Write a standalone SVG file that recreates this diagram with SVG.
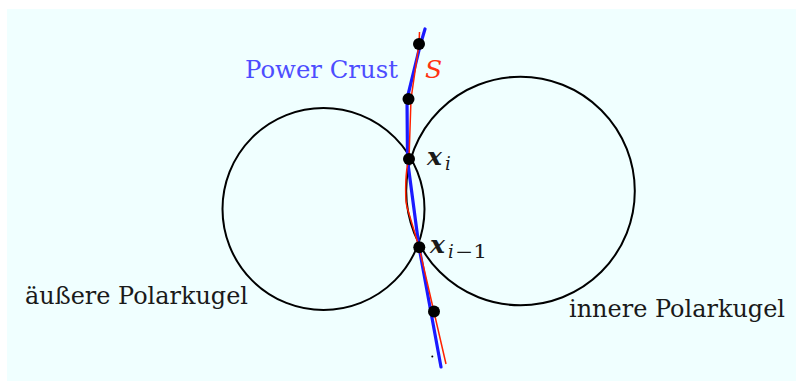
<svg xmlns="http://www.w3.org/2000/svg" width="796" height="381" viewBox="0 0 796 381">
<style>
text{font-family:"DejaVu Serif",serif}
.lbl{font-size:24px;fill:#1a1a1a}
.pc{font-size:24px;fill:#4d4dff}
.s{font-style:italic;font-size:25px;fill:#ff3311}
.math{font-style:italic;font-weight:bold;font-size:25px;fill:#1a1a1a}
.sub{font-style:italic;font-size:18px;fill:#1a1a1a}
.subr{font-size:18px;fill:#1a1a1a}
.circ{fill:none;stroke:#000;stroke-width:2}
.pt{fill:#000}
</style>
<rect x="7" y="9" width="789" height="372" fill="#f0ffff"/>
<g id="outer-ball"><circle class="circ" cx="323.5" cy="209" r="101"/></g>
<g id="inner-ball"><circle class="circ" cx="520.5" cy="191" r="114.3"/></g>
<g id="connectors">
<path id="power-crust" d="M425,29 L420,46 L407,99 L407.5,160 L419,247 L441,367" fill="none" stroke="#1a1aff" stroke-width="3.2" stroke-linejoin="round" stroke-linecap="round"/>
<path id="surface-S" d="M419.5,32 L419,44 L411,99 L409,159 C405,170 405,200 407,207 L419,247 L446,364" fill="none" stroke="#ff2200" stroke-width="1.5" stroke-linejoin="round"/>
</g>
<g id="points">
<circle class="pt" cx="419" cy="44" r="6"/>
<circle class="pt" cx="408.5" cy="99" r="6"/>
<circle class="pt" cx="409" cy="159" r="6"/>
<circle class="pt" cx="419.3" cy="247.3" r="6"/>
<circle class="pt" cx="434" cy="311.5" r="6"/>
<circle class="pt" cx="432.3" cy="356.5" r="1"/>
</g>
<g id="labels">
<text class="pc" x="245" y="78" textLength="153" lengthAdjust="spacingAndGlyphs">Power Crust</text>
<text class="s" x="425" y="78">S</text>
<text class="math" x="427" y="165">x</text><text class="sub" x="445" y="170">i</text>
<text class="math" x="430" y="253">x</text><text class="sub" x="448" y="258">i</text><text class="subr" x="455" y="258" textLength="32" lengthAdjust="spacingAndGlyphs">−1</text>
<text class="lbl" x="25" y="304" textLength="223" lengthAdjust="spacingAndGlyphs">äußere Polarkugel</text>
<text class="lbl" x="569" y="317" textLength="216" lengthAdjust="spacingAndGlyphs">innere Polarkugel</text>
</g>
</svg>
